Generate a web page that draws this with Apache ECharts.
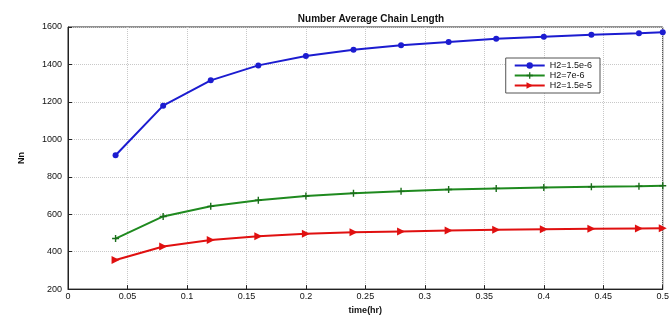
<!DOCTYPE html>
<html><head><meta charset="utf-8">
<script src="https://cdn.jsdelivr.net/npm/echarts@6/dist/echarts.min.js"></script>
<style>html,body{margin:0;padding:0;background:#fff}#c{width:672px;height:320px}</style>
</head><body><div id="c"></div>
<script>
const times = [0.04,0.08,0.12,0.16,0.2,0.24,0.28,0.32,0.36,0.40,0.44,0.48,0.5];
const h2_15e6 = [915,1180,1315,1395,1445,1478,1502,1520,1537,1548,1558,1567,1572];
const h2_7e6 = [470,588,642,675,697,712,722,732,738,743,747,750,752];
const h2_15e5 = [355,428,462,482,495,503,508,513,517,520,522,524,525];
const seriesNames = ['H2=1.5e-6','H2=7e-6','H2=1.5e-5'];
const xTicks = [0,0.05,0.1,0.15,0.2,0.25,0.3,0.35,0.4,0.45,0.5];
const yTicks = [200,400,600,800,1000,1200,1400,1600];

const pair = v => times.map((t,i)=>[t,v[i]]);
const font = 'Liberation Sans';
const tri = 'path://M0,0 L10,5 L0,10 Z';
const chart = echarts.init(document.getElementById('c'));
chart.setOption({
  animation:false,
  title:{text:'Number Average Chain Length',left:366,top:9,textAlign:'center',
    textStyle:{fontFamily:font,fontSize:10,fontWeight:'bold',color:'#111'}},
  grid:{left:68,right:4,top:27,bottom:22,show:true,borderColor:'#222',borderWidth:1},
  legend:{right:72,top:58,orient:'vertical',itemGap:1,itemWidth:30,itemHeight:8,
    backgroundColor:'#fff',borderColor:'#555',borderWidth:1,padding:[3,8,3,8],
    textStyle:{fontFamily:font,fontSize:9,color:'#111'},data:seriesNames},
  xAxis:{type:'value',min:0,max:0.5,interval:0.05,
    name:'time(hr)',nameLocation:'middle',nameGap:12,
    nameTextStyle:{fontFamily:font,fontSize:9,fontWeight:'bold',color:'#111'},
    axisLine:{show:true,lineStyle:{color:'#222'}},
    axisTick:{show:true,inside:true,length:4,lineStyle:{color:'#222'}},
    axisLabel:{fontFamily:font,fontSize:9,color:'#111',margin:3,
      formatter:v=>{const m=xTicks.find(t=>Math.abs(t-v)<1e-9);return m===undefined?'':String(m);}},
    splitLine:{show:true,lineStyle:{color:'#c8c8c8',type:'dotted'}}},
  yAxis:{type:'value',min:200,max:1600,interval:200,
    name:'Nn',nameLocation:'middle',nameGap:42,nameRotate:90,
    nameTextStyle:{fontFamily:font,fontSize:9,fontWeight:'bold',color:'#111'},
    axisLine:{show:true,lineStyle:{color:'#222'}},
    axisTick:{show:true,inside:true,length:4,lineStyle:{color:'#222'}},
    axisLabel:{fontFamily:font,fontSize:9,color:'#111',margin:6,
      formatter:v=>yTicks.includes(v)?String(v):''},
    splitLine:{show:true,lineStyle:{color:'#c8c8c8',type:'dotted'}}},
  series:[
    {name:seriesNames[0],type:'line',data:pair(h2_15e6),symbol:'circle',symbolSize:6,
      lineStyle:{width:2,color:'#1c1cd0'},itemStyle:{color:'#1c1cd0'}},
    {name:seriesNames[1],type:'line',data:pair(h2_7e6),symbol:'path://M4,0 L6,0 L6,4 L10,4 L10,6 L6,6 L6,10 L4,10 L4,6 L0,6 L0,4 L4,4 Z',symbolSize:7,
      lineStyle:{width:2,color:'#1f8a1f'},itemStyle:{color:'#1a6e1a'}},
    {name:seriesNames[2],type:'line',data:pair(h2_15e5),symbol:tri,symbolSize:8,
      lineStyle:{width:2,color:'#e01010'},itemStyle:{color:'#e01010'}}
  ]
});
</script></body></html>
